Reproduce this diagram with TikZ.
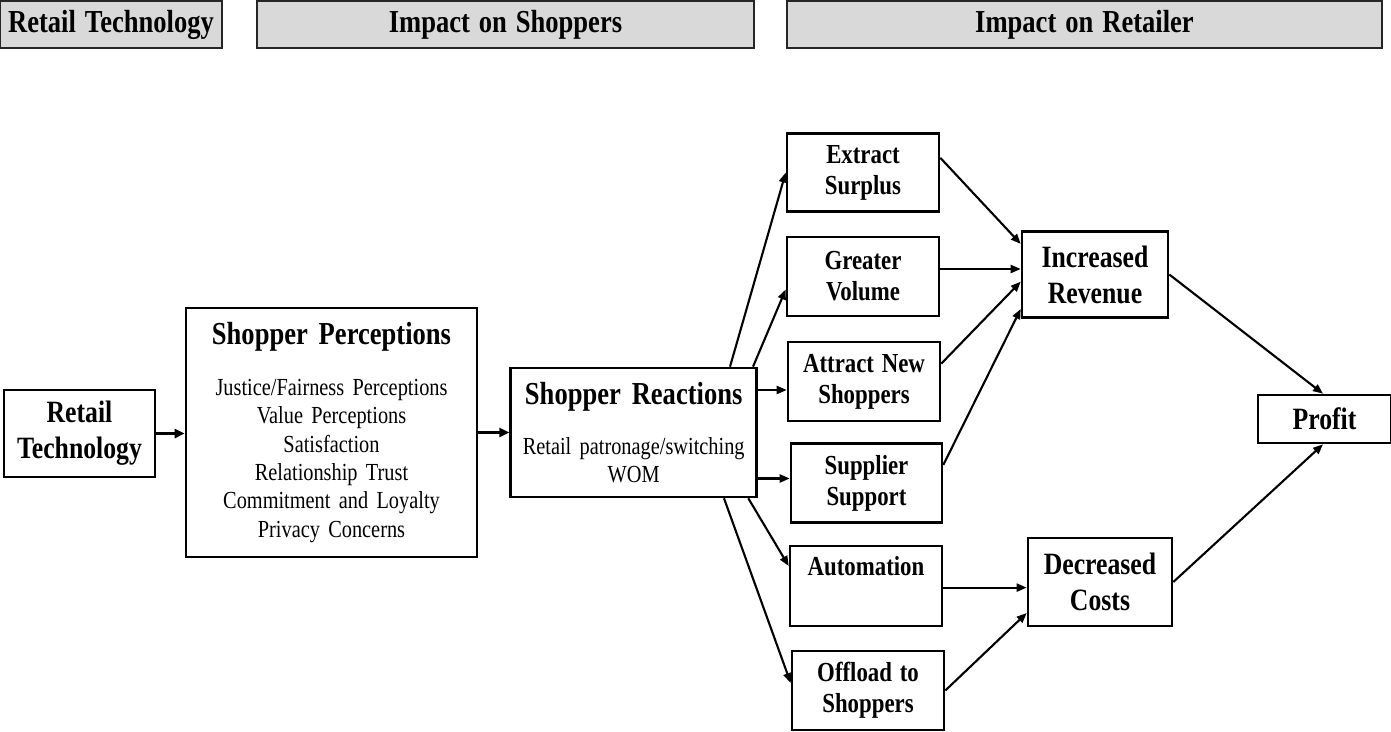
\documentclass[tikz,border=0pt]{standalone}
\usepackage{fontspec}
\setmainfont{Liberation Serif}[FakeStretch=0.83, WordSpace=1.35]
\usetikzlibrary{arrows.meta}
\definecolor{headgray}{HTML}{D9D9D9}
% fixed interword space inside the paragraph boxes
\newcommand{\widespace}{\spaceskip=0.34em\relax\xspaceskip=0.34em\relax}

\begin{document}
\begin{tikzpicture}[x=1pt,y=-1pt,
  box/.style={draw=black, line width=2.6pt, fill=white, inner sep=0pt, align=center},
  head/.style={draw=black!85, line width=2.6pt, fill=headgray, inner sep=0pt,
    font=\fontsize{32}{36}\selectfont\bfseries},
  bigtext/.style={font=\fontsize{31}{36}\selectfont\bfseries},
  midtext/.style={font=\fontsize{27.5}{31}\selectfont\bfseries},
  link/.style={line width=2.1pt, -{Triangle[length=10pt,width=8pt]}},
  mainlink/.style={line width=3pt, -{Triangle[length=10pt,width=9pt]}}
]
\useasboundingbox (0,0) rectangle (1391,731);

% column headers
\node[head, minimum width=222pt, minimum height=47pt] (h1) at (111,24.5) {Retail Technology};
\node[head, minimum width=497pt, minimum height=47pt] (h2) at (505.5,24.5) {Impact on Shoppers};
\node[head, minimum width=595pt, minimum height=47pt] (h3) at (1084.5,24.5) {Impact on Retailer};

% main chain
\node[box, bigtext, minimum width=151pt, minimum height=87pt] (rt) at (79.5,433.5) {Retail\\Technology};

\node[box, minimum width=291pt, minimum height=249pt, text width=285pt] (sp) at (331.5,432.5)
  {\fontsize{32}{38}\selectfont\bfseries\widespace Shopper Perceptions\par
   \vspace{22.4pt}\fontsize{24.5}{28.3}\selectfont\mdseries\widespace
   Justice/Fairness Perceptions\\ Value Perceptions\\ Satisfaction\\
   Relationship Trust\\ Commitment and Loyalty\\ Privacy Concerns\par};

\node[box, minimum width=246pt, minimum height=129pt, text width=240pt] (sr) at (633.7,432.5)
  {\fontsize{32}{38}\selectfont\bfseries\widespace Shopper Reactions\par
   \vspace{22.6pt}\fontsize{24.5}{28}\selectfont\mdseries\widespace
   Retail patronage/switching\\ WOM\par};

% retailer levers
\node[box, midtext, minimum width=152pt, minimum height=78pt] (es)  at (863,172.6) {Extract\\Surplus};
\node[box, midtext, minimum width=152pt, minimum height=79pt] (gv)  at (863,276.3) {Greater\\Volume};
\node[box, midtext, minimum width=152pt, minimum height=79pt] (an)  at (864,381.5) {Attract New\\Shoppers};
\node[box, midtext, minimum width=151pt, minimum height=79pt] (ss)  at (866.5,483) {Supplier\\Support};
\node[box, midtext, minimum width=152pt, minimum height=80pt] (au)  at (866,586) {Automation\\\strut};
\node[box, midtext, minimum width=152pt, minimum height=79pt] (off) at (868,690.5) {Offload to\\Shoppers};

% outcomes
\node[box, font=\fontsize{31}{36}\selectfont\bfseries, minimum width=146pt, minimum height=86pt] (ir) at (1095,274.5) {Increased\\Revenue};
\node[box, font=\fontsize{31}{36}\selectfont\bfseries, minimum width=144pt, minimum height=88pt] (dc) at (1100,582) {Decreased\\Costs};
\node[box, bigtext, minimum width=133pt, minimum height=48pt] (pr) at (1324.5,419) {Profit};

% connectors
\draw[mainlink] (rt.east) -- (rt.east -| sp.west);
\draw[mainlink] (sp.east) -- (sp.east -| sr.west);

\draw[link] ([xshift=96.3pt]sr.north) -- (es.west);
\draw[link] ([xshift=119.3pt]sr.north) -- ([yshift=-13.2pt]gv.west);
\draw[link] ([yshift=42.5pt]sr.east) -- ([yshift=42.5pt]sr.east -| an.west);
\draw[link] ([yshift=-46pt]sr.east) -- ([yshift=-46pt]sr.east -| ss.west);
\draw[link] ([xshift=114.6pt]sr.south) -- ([yshift=20pt]au.west);
\draw[link] ([xshift=90.3pt]sr.south) -- ([yshift=7.5pt]off.west);

\draw[link] ([yshift=14.8pt]es.east) -- ([yshift=30.6pt]ir.west);
\draw[link] ([yshift=7.3pt]gv.east) -- ([yshift=7.3pt]gv.east -| ir.west);
\draw[link] ([yshift=17.9pt]an.east) -- ([yshift=-7.2pt]ir.west);
\draw[link] ([yshift=18.1pt]ss.east) -- ([yshift=-34.5pt]ir.west);

\draw[link] ([yshift=-1.6pt]au.east) -- ([yshift=-1.6pt]au.east -| dc.west);
\draw[link] (off.east) -- ([yshift=-31pt]dc.west);

\draw[link] (ir.east) -- ([xshift=-1.5pt]pr.north);
\draw[link] (dc.east) -- ([xshift=-1.5pt]pr.south);
\end{tikzpicture}
\end{document}
